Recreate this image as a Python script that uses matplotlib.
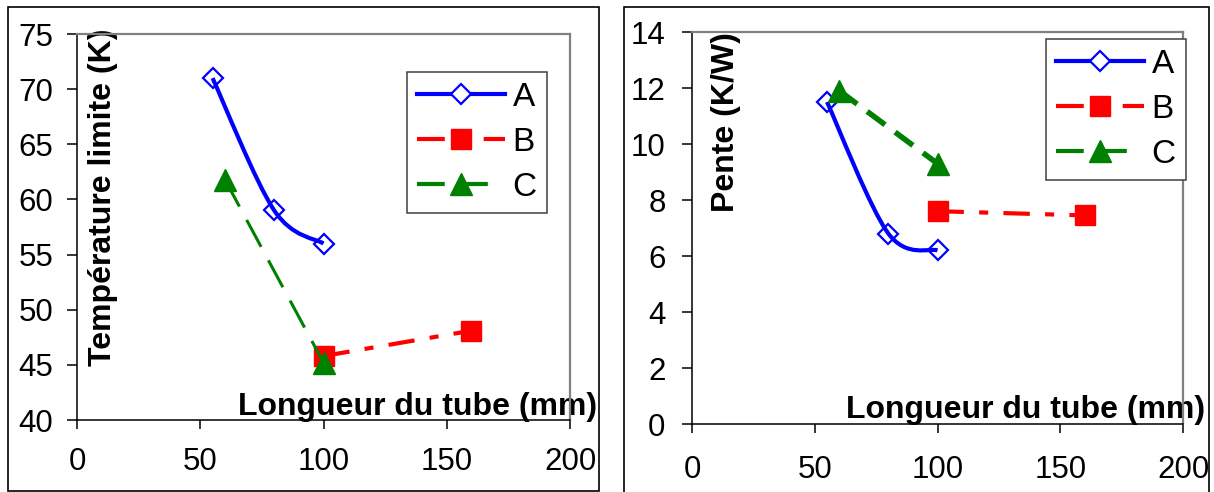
import matplotlib
matplotlib.use('Agg')
import matplotlib.pyplot as plt
from matplotlib.path import Path
from matplotlib.patches import PathPatch, Rectangle
from matplotlib.lines import Line2D
import numpy as np

plt.rcParams['font.family'] = ['Liberation Sans', 'DejaVu Sans']
plt.rcParams['lines.scale_dashes'] = False

# longueur du tube (mm)
long_a = [55, 80, 100]
long_b = [100, 160]
long_c = [60, 100]

# température limite (K)
temp_a = [71.0, 59.0, 56.0]
temp_b = [45.8, 48.1]
temp_c = [61.8, 45.2]

# pente (K/W)
pente_a = [11.5, 6.8, 6.2]
pente_b = [7.6, 7.45]
pente_c = [11.9, 9.3]

labels = ['A', 'B', 'C']

BLUE = '#0000FF'
RED = '#FF0000'
GREEN = '#008000'
DASHDOT = (0, (19, 11, 6.5, 11))


def smooth_path(x, y):
    # courbe lissée façon Excel (bezier, tension 1/6)
    pts = np.column_stack([x, y]).astype(float)
    n = len(pts)
    verts = [pts[0]]
    codes = [Path.MOVETO]
    for i in range(n - 1):
        p0 = pts[max(i - 1, 0)]
        p3 = pts[min(i + 2, n - 1)]
        c1 = pts[i] + (pts[i + 1] - p0) / 6
        c2 = pts[i + 1] - (p3 - pts[i]) / 6
        verts += [c1, c2, pts[i + 1]]
        codes += [Path.CURVE4] * 3
    return Path(verts, codes)


def draw_panel(ax, ya, yb, yc, c_lw, c_dash, ylim, ystep, ylabel, ylab_pos,
               xlab_pos, leg_pos, xpad, ypad):
    ax.add_patch(PathPatch(smooth_path(long_a, ya), fill=False, ec=BLUE, lw=3, zorder=3))
    ax.plot(long_a, ya, ls='none', marker='D', ms=10.5, mfc='none', mec=BLUE, mew=1.6, zorder=4)
    ax.plot(long_b, yb, color=RED, lw=3, ls=DASHDOT, marker='s', ms=14, mec=RED, zorder=3)
    ax.plot(long_c, yc, color=GREEN, lw=c_lw, ls=(0, c_dash), marker='^', ms=16, mec=GREEN, zorder=5)

    ax.set_xlim(0, 200)
    ax.set_ylim(*ylim)
    ax.set_xticks(np.arange(0, 201, 50))
    ax.set_yticks(np.arange(ylim[0], ylim[1] + 0.01, ystep))
    ax.tick_params(axis='x', direction='out', length=6.5, width=1.1, pad=xpad, labelsize=22.5)
    ax.tick_params(axis='y', direction='out', length=7, width=1.1, pad=ypad, labelsize=22.5)
    for s in ['left', 'bottom']:
        ax.spines[s].set_color('black')
        ax.spines[s].set_linewidth(1.1)
    for s in ['top', 'right']:
        ax.spines[s].set_color('#808080')
        ax.spines[s].set_linewidth(1.6)

    ax.set_xlabel('Longueur du tube (mm)', fontsize=23, fontweight='bold', ha='right', va='baseline')
    ax.xaxis.set_label_coords(*xlab_pos)
    ax.set_ylabel(ylabel, fontsize=23, fontweight='bold', ha='center', va='center')
    ax.yaxis.set_label_coords(*ylab_pos)

    handles = [
        Line2D([], [], color=BLUE, lw=3, marker='D', ms=10.5, mfc='white', mec=BLUE, mew=1.6),
        Line2D([], [], color=RED, lw=3, ls=(0, (20, 28)), marker='s', ms=14, mec=RED),
        Line2D([], [], color=GREEN, lw=3, ls=(0, (20, 11, 20, 20)), marker='^', ms=16, mec=GREEN),
    ]
    leg = ax.legend(handles, labels, loc='upper left', bbox_to_anchor=leg_pos, borderaxespad=0,
                    fontsize=24, handlelength=2.65, handletextpad=0.22, labelspacing=0.42,
                    borderpad=0.3, fancybox=False, framealpha=1, edgecolor='#404040')
    leg.get_frame().set_linewidth(1.1)


fig = plt.figure(figsize=(12.14, 4.92), dpi=100)

W, H = 1214, 492
ax1 = fig.add_axes([77 / W, 1 - 420 / H, (570 - 77) / W, (420 - 34) / H])
ax2 = fig.add_axes([692 / W, 1 - 424 / H, (1183 - 692) / W, (424 - 32) / H])

draw_panel(ax1, temp_a, temp_b, temp_c, 2.2, (22, 11), (40, 75), 5, 'Température limite (K)',
           (0.053, 0.577), (1.055, 0.013), (0.669, 0.902), 13, 10)
draw_panel(ax2, pente_a, pente_b, pente_c, 4, (16, 9), (0, 14), 2, 'Pente (K/W)',
           (0.069, 0.770), (1.045, 0.015), (0.721, 0.982), 16, 12)

# cadres des deux graphiques
fig.add_artist(Rectangle((8 / W, 1 - 491 / H), (599 - 8) / W, (491 - 7) / H,
                         transform=fig.transFigure, fill=False, ec='black', lw=1.2))
fig.add_artist(Rectangle((624 / W, -0.05), (1209 - 624) / W, 1 - 7 / H + 0.05,
                         transform=fig.transFigure, fill=False, ec='black', lw=1.2))

fig.savefig('out.png', dpi=100)
